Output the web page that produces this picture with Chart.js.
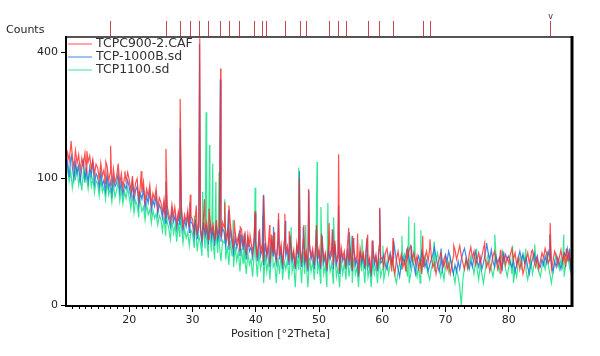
<!DOCTYPE html>
<html>
<head>
<meta charset="utf-8">
<script src="https://cdn.jsdelivr.net/npm/chart.js@4.4.1/dist/chart.umd.min.js"></script>
<style>
  body { margin: 0; background: #fff; }
  canvas { display: block; }
</style>
</head>
<body>
<canvas id="myChart" width="600" height="356"></canvas>
<script>
// scan grid: 10 to 90 deg 2theta, every 0.25 deg
const startDeg = 10, stepDeg = 0.25

// counts (noise band), one row = 5 deg
const redBase = [
  122,145,131,158,138,117,149,126,141,112,135,121,144,109,128,139,115,132,107,124,
  118,99,126,104,114,92,121,97,109,88,116,94,103,125,91,108,86,102,95,110,
  98,82,104,76,93,100,71,88,79,95,67,84,74,90,63,78,70,85,58,72,
  66,54,70,48,61,52,44,63,49,57,41,55,46,60,39,51,43,56,38,49,
  46,34,52,31,44,38,28,49,35,42,27,47,33,40,26,45,30,37,29,43,
  38,26,34,22,40,28,20,33,24,30,18,36,23,27,16,31,21,25,17,29,
  26,14,30,18,22,12,28,16,24,11,31,17,20,13,27,15,23,10,25,18,
  22,12,26,14,19,9,24,16,21,11,27,13,18,8,23,15,20,10,25,14,
  20,9,24,13,17,8,22,15,19,10,26,12,16,7,21,14,18,9,23,12,
  18,8,21,12,15,6,20,13,17,9,23,11,14,6,19,12,16,8,22,13,
  14,9,17,20,12,15,7,10,6,13,18,11,16,9,12,7,14,19,22,13,
  17,11,15,8,12,6,9,14,18,12,20,15,9,11,6,10,13,17,12,9,
  14,8,11,6,10,15,19,13,17,22,15,11,8,13,9,16,21,14,18,10,
  13,17,11,15,20,14,9,12,7,10,15,18,13,8,11,6,12,16,10,14,
  11,16,20,13,17,10,14,8,12,6,9,13,17,11,15,19,12,9,14,8,
  12,17,14,20,16,11,13,8,12,18,15,10,14,19,12,16,9,13,17,11,
  16
]
const blueBase = [
  110,128,102,135,119,98,126,108,121,96,117,130,100,112,94,119,104,125,92,108,
  102,86,110,90,98,81,106,85,96,77,101,88,93,108,80,95,76,90,84,97,
  87,72,92,67,82,88,62,78,70,84,58,74,65,80,55,69,61,75,51,63,
  58,47,62,42,54,46,38,56,43,50,36,49,40,53,34,45,38,50,33,43,
  41,29,46,27,39,33,24,43,30,37,23,41,28,35,22,39,26,32,25,37,
  33,22,30,19,35,24,17,29,20,26,15,31,19,23,13,27,18,21,14,25,
  23,12,26,15,19,10,24,14,21,9,27,15,17,11,23,13,20,8,22,15,
  19,10,23,12,16,8,21,14,18,9,24,11,15,7,20,13,17,8,22,12,
  17,8,21,11,15,7,19,13,16,8,23,10,14,6,18,12,15,8,20,10,
  15,7,19,10,13,5,18,11,15,8,20,9,12,5,17,10,14,7,19,11,
  12,16,10,8,13,17,11,14,19,12,8,5,10,14,11,16,20,13,9,12,
  10,6,12,15,11,18,14,9,12,7,10,13,16,21,14,10,7,11,8,13,
  16,12,18,14,9,6,10,7,12,8,13,17,20,15,11,8,12,9,14,18,
  12,9,14,8,11,16,22,17,13,19,12,9,15,11,14,10,8,12,16,13,
  15,11,9,12,7,10,14,18,13,16,11,14,9,6,10,13,17,12,15,10,
  9,13,10,15,11,18,14,10,7,12,9,14,11,8,12,17,15,20,12,9,
  14
]
const greenBase = [
  102,118,95,112,86,108,97,121,90,104,82,110,93,99,84,114,88,101,79,96,
  92,74,98,80,88,70,95,76,85,66,90,73,82,96,68,84,64,80,71,86,
  72,58,76,53,68,62,48,66,55,60,45,63,51,57,42,56,47,52,40,50,
  46,34,49,30,43,37,27,45,32,40,25,42,29,38,24,36,28,33,22,35,
  32,21,35,18,30,24,15,33,20,27,14,31,18,25,13,29,17,22,12,26,
  24,13,22,10,26,15,9,21,12,18,7,20,11,15,6,17,10,13,5,16,
  15,5,18,8,12,3,16,7,13,4,19,9,11,3,14,6,17,4,12,8,
  13,4,16,7,11,2,15,8,12,3,18,6,10,2,14,7,12,4,16,6,
  12,3,15,6,10,2,14,7,11,3,17,5,9,2,13,6,11,4,15,5,
  11,3,14,6,9,2,13,7,10,3,16,5,9,2,12,6,10,3,14,5,
  8,4,7,12,6,10,14,9,5,3,7,11,8,13,16,9,5,3,6,10,
  13,8,5,10,3,7,12,15,9,6,4,8,11,7,13,17,10,5,8,4,
  9,12,7,14,10,6,3,8,5,2,0,4,9,13,8,11,15,10,6,12,
  8,4,10,6,3,7,12,16,11,8,5,9,14,10,7,13,18,12,8,5,
  9,12,6,3,8,5,11,14,9,16,12,7,4,8,13,6,10,15,9,7,
  5,9,12,8,14,10,6,3,7,11,16,12,8,13,9,5,10,14,11,7,
  10
]

// sharp reflections (position, counts)
const redPeakX = [10.8,13.3,16.3,17.05,19.3,21.9,25.8,27.2,28.05,29.65,30.6,31.15,31.9,32.6,34.45,35.1,35.75,36.6,37.55,38.3,39.1,39.9,40.6,41.25,42.2,42.9,43.6,44.6,45.3,46.9,47.6,48.35,49.6,50.4,51.6,52.1,53.1,54.7,55.3,56.1,57.7,58.4,59.6,61.7,63.9,66.4,67.55,71.3,76.2,78.7,83.6,86.55,89.1]
const redPeakY = [168,148,128,158,112,112,152,60,265,76,62,445,70,58,350,66,62,45,38,34,30,55,36,74,40,33,53,52,34,100,40,84,40,32,42,36,142,37,30,32,31,26,59,28,20,30,27,22,24,19,18,42,20]
const bluePeakX = [10.9,14.2,25.8,28.05,29.6,31.1,34.4,35.7,37.45,38.2,39.9,40.5,41.2,42.8,43.6,44.7,45.4,46.9,47.5,48.4,49.6,50.5,52.2,53.1,54.8,55.4,57.6,58.5,59.6,61.8,64.6,69.3,76.5,79.1,86.5,89.6]
const bluePeakY = [140,128,95,195,66,425,318,56,35,32,52,34,76,38,46,44,30,112,38,82,36,30,35,62,33,28,28,26,58,26,22,20,24,18,31,20]
const greenPeakX = [11.4,13.1,21.6,25.9,28.1,30.3,31.6,32.15,32.7,33.2,33.7,34.2,35.1,36.4,38.1,39.9,41.1,42.6,45.6,46.8,47.9,49.7,50.3,51.4,52.3,55.2,56.8,60.1,63.1,64.2,65.1,66.1,68.2,74.9,77.8,80.6,82.7,84.1,86.1,88.7]
const greenPeakY = [125,118,80,55,60,50,80,232,160,125,95,110,70,45,30,86,50,30,38,118,40,128,60,65,48,30,27,22,30,49,42,35,25,20,31,22,20,23,18,31]

// reference pattern lines above the plot
const refX = [16.95,25.8,28.0,29.6,31.06,32.4,34.3,35.7,37.4,39.8,41.0,41.6,44.6,47.0,48.0,51.6,53.0,54.3,57.7,59.5,61.7,66.4,67.6,86.6]

const xTicks = [20,30,40,50,60,70,80]
const yTicks = [0,100,400]
const names = ['TCPC900-2.CAF','TCP-1000B.sd','TCP1100.sd']
const colors = ['rgba(255,40,40,0.82)','rgba(30,115,225,0.85)','rgba(0,228,125,0.8)']

function series(base, px, py) {
  let pts = base.map((v, i) => ({ x: startDeg + i * stepDeg, y: v }))
  px.forEach((x, k) => pts.push({ x: x, y: py[k] }))
  return pts.sort((a, b) => a.x - b.x)
}

// square root count axis
class SqrtScale extends Chart.LinearScale {
  getPixelForValue(value) {
    let lo = Math.sqrt(Math.max(this.min, 0)), hi = Math.sqrt(this.max)
    return this.getPixelForDecimal((Math.sqrt(Math.max(value, 0)) - lo) / (hi - lo))
  }
  getValueForPixel(pixel) {
    let lo = Math.sqrt(Math.max(this.min, 0)), hi = Math.sqrt(this.max)
    let s = lo + this.getDecimalForPixel(pixel) * (hi - lo)
    return s * s
  }
}
SqrtScale.id = 'sqrt'
SqrtScale.defaults = {}
Chart.register(SqrtScale)

const font = { family: 'DejaVu Sans', size: 11 }

const extras = {
  id: 'extras',
  afterDraw(chart) {
    const ctx = chart.ctx, a = chart.chartArea, xs = chart.scales.x
    ctx.save()
    // minor ticks
    ctx.strokeStyle = '#000'
    ctx.lineWidth = 1
    for (let d = 11; d < 90; d++) {
      if (d % 10 === 0) continue
      let px = Math.round(xs.getPixelForValue(d)) + 0.5
      ctx.beginPath(); ctx.moveTo(px, a.bottom + 1); ctx.lineTo(px, a.bottom + 4); ctx.stroke()
    }
    // frame
    ctx.strokeStyle = '#555'
    ctx.lineWidth = 2
    ctx.beginPath(); ctx.moveTo(a.left, a.top); ctx.lineTo(a.right, a.top); ctx.stroke()
    ctx.strokeStyle = '#000'
    ctx.beginPath(); ctx.moveTo(a.left, a.top - 1); ctx.lineTo(a.left, a.bottom + 1); ctx.lineTo(a.right, a.bottom + 1); ctx.stroke()
    ctx.lineWidth = 3
    ctx.beginPath(); ctx.moveTo(a.right, a.top - 1); ctx.lineTo(a.right, a.bottom + 2); ctx.stroke()
    // reference pattern
    ctx.strokeStyle = '#c8444f'
    ctx.lineWidth = 1
    refX.forEach(r => {
      let px = Math.round(xs.getPixelForValue(r)) + 0.5
      ctx.beginPath(); ctx.moveTo(px, a.top - 16); ctx.lineTo(px, a.top - 1); ctx.stroke()
    })
    ctx.fillStyle = '#333'
    ctx.font = '8px DejaVu Sans'
    ctx.textAlign = 'center'
    ctx.textBaseline = 'middle'
    ctx.fillText('v', xs.getPixelForValue(refX[refX.length - 1]), a.top - 20)
    // texts
    ctx.fillStyle = '#222'
    ctx.font = '11px DejaVu Sans'
    ctx.textAlign = 'left'
    ctx.fillText('Counts', 6, 30)
    ctx.fillText('Position [°2Theta]', 231, 334)
    // legend
    ctx.font = '12.5px DejaVu Sans'
    names.forEach((n, i) => {
      let y = a.top + 6.5 + i * 13
      ctx.strokeStyle = colors[i]
      ctx.lineWidth = 1
      ctx.beginPath(); ctx.moveTo(a.left + 2, y + 0.5); ctx.lineTo(a.left + 26, y + 0.5); ctx.stroke()
      ctx.fillStyle = '#333'
      ctx.fillText(n, a.left + 30, y + 0.5)
    })
    ctx.restore()
  }
}

new Chart(document.getElementById('myChart').getContext('2d'), {
  type: 'line',
  data: {
    datasets: [
      { label: names[0], data: series(redBase, redPeakX, redPeakY), borderColor: colors[0] },
      { label: names[1], data: series(blueBase, bluePeakX, bluePeakY), borderColor: colors[1] },
      { label: names[2], data: series(greenBase, greenPeakX, greenPeakY), borderColor: colors[2] }
    ]
  },
  options: {
    responsive: false,
    animation: false,
    devicePixelRatio: 1,
    layout: { padding: { top: 37, right: 28, left: 0, bottom: 0 } },
    elements: { line: { borderWidth: 1.2, tension: 0 }, point: { radius: 0 } },
    plugins: { legend: { display: false }, tooltip: { enabled: false } },
    scales: {
      x: {
        type: 'linear', min: 10, max: 90,
        afterBuildTicks: s => { s.ticks = xTicks.map(v => ({ value: v })) },
        afterFit: s => { s.height = 51 },
        ticks: { autoSkip: false, maxRotation: 0, font: font, color: '#222', padding: 2 },
        grid: { drawOnChartArea: false, tickLength: 7, color: '#000' },
        border: { display: false }
      },
      y: {
        type: 'sqrt', min: 0, max: 449,
        afterBuildTicks: s => { s.ticks = yTicks.map(v => ({ value: v })) },
        afterFit: s => { s.width = 66 },
        ticks: { font: font, color: '#222', padding: 3, callback: v => String(v) },
        grid: { drawOnChartArea: false, tickLength: 5, color: '#000' },
        border: { display: false }
      }
    }
  },
  plugins: [extras]
})
</script>
</body>
</html>
